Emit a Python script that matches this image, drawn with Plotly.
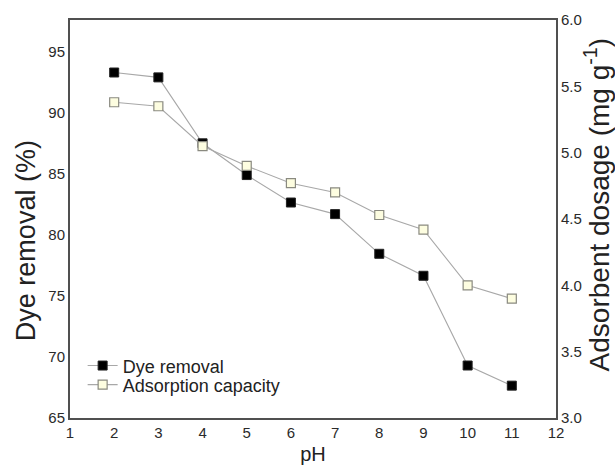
import plotly.graph_objects as go

ph = [2, 3, 4, 5, 6, 7, 8, 9, 10, 11]
dye_removal = [93.3, 92.9, 87.5, 84.9, 82.65, 81.7, 78.45, 76.65, 69.3, 67.65]
adsorption_capacity = [5.38, 5.35, 5.05, 4.90, 4.77, 4.70, 4.53, 4.42, 4.00, 3.90]
x_ticks = list(range(1, 13))
y1_ticks = [65, 70, 75, 80, 85, 90, 95]
y2_ticks = [3.0, 3.5, 4.0, 4.5, 5.0, 5.5, 6.0]

FONT = "Liberation Sans, Arial, sans-serif"
AX = "#505050"
LINE = "#a8a8a8"

fig = go.Figure()
fig.add_trace(go.Scatter(
    x=ph, y=dye_removal, name="Dye removal", mode="lines+markers",
    line=dict(color=LINE, width=1.1),
    marker=dict(symbol="square", size=9, color="black", line=dict(color="#222", width=1)),
    legend="legend", yaxis="y", showlegend=True))
fig.add_trace(go.Scatter(
    x=ph, y=adsorption_capacity, name="Adsorption capacity", mode="lines+markers",
    line=dict(color=LINE, width=1.1),
    marker=dict(symbol="square", size=9, color="#fdfde0", line=dict(color="#8a8a80", width=1.2)),
    legend="legend2", yaxis="y2", showlegend=True))

legfont = dict(family=FONT, size=18, color="#222")
fig.update_layout(
    width=615, height=465,
    margin=dict(l=70, r=59, t=20, b=47, autoexpand=False),
    showlegend=True,
    paper_bgcolor="white", plot_bgcolor="white",
    font=dict(family=FONT, color="#222"),
    xaxis=dict(range=[1, 12], tickvals=x_ticks, showgrid=False, zeroline=False, automargin=False,
               showline=True, linecolor=AX, linewidth=2, mirror=True, ticks="",
               tickfont=dict(size=15, color="#2a2a2a"),
               title=dict(text="pH", font=dict(size=20, color="#222"), standoff=10)),
    yaxis=dict(range=[65, 97.6], tickvals=y1_ticks, showgrid=False, zeroline=False, automargin=False,
               showline=True, linecolor=AX, linewidth=2, ticks="",
               tickfont=dict(size=15, color="#2a2a2a")),
    yaxis2=dict(range=[3.0, 6.0], tickvals=y2_ticks, tickformat=".1f", overlaying="y", side="right",
                showgrid=False, zeroline=False, showline=True, linecolor=AX, linewidth=2, ticks="",
                automargin=False,
                tickfont=dict(size=15, color="#2a2a2a")),
    legend=dict(x=0.026, y=0.131, xanchor="left", yanchor="middle", bgcolor="rgba(0,0,0,0)",
                font=legfont, itemwidth=30),
    legend2=dict(x=0.026, y=0.083, xanchor="left", yanchor="middle", bgcolor="rgba(0,0,0,0)",
                 font=legfont, itemwidth=30),
    annotations=[
        dict(text="Dye removal (%)", xref="paper", yref="paper", x=-0.09, y=0.445,
             textangle=-90, showarrow=False, xanchor="center", yanchor="middle",
             font=dict(size=27, color="#222", family=FONT)),
        dict(text="Adsorbent dosage (mg g<sup>-1</sup>)", xref="paper", yref="paper", x=1.085, y=0.535,
             textangle=-90, showarrow=False, xanchor="center", yanchor="middle",
             font=dict(size=28, color="#222", family=FONT)),
    ],
)

fig.write_html("out.html")
